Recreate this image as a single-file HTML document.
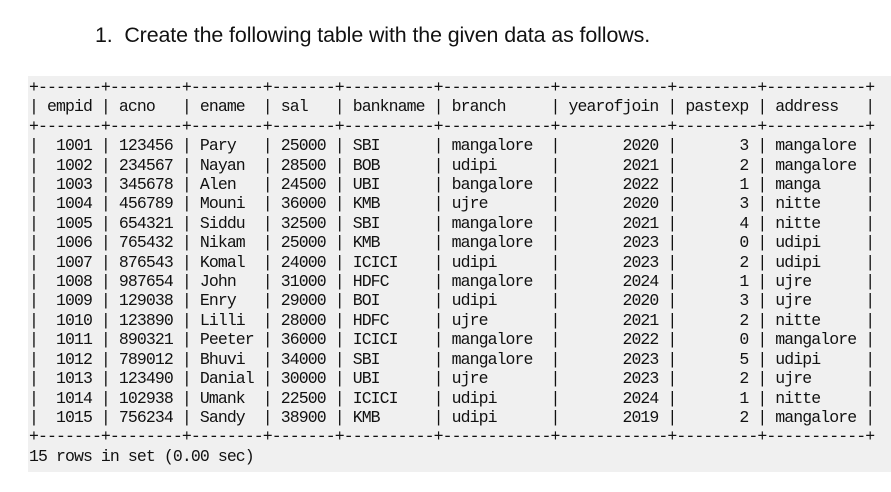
<!DOCTYPE html>
<html><head><meta charset="utf-8"><style>
html,body{margin:0;padding:0;background:#fff;width:891px;height:492px;overflow:hidden;position:relative}
.title{position:absolute;left:95px;top:23px;font-family:"Liberation Sans",sans-serif;font-size:21.4px;color:#111;white-space:nowrap;letter-spacing:-0.1px}
.term{position:absolute;left:28px;top:76px;width:863px;height:396px;background:#f0f0f0}
pre{position:absolute;left:29px;top:78px;margin:0;font-family:"Liberation Mono",monospace;font-size:16.5px;line-height:19.4px;color:#111;letter-spacing:-0.91px}
</style></head><body>
<div class="title">1.&nbsp; Create the following table with the given data as follows.</div>
<div class="term"></div>
<pre>+-------+--------+--------+-------+----------+------------+------------+---------+-----------+
| empid | acno   | ename  | sal   | bankname | branch     | yearofjoin | pastexp | address   |
+-------+--------+--------+-------+----------+------------+------------+---------+-----------+
|  1001 | 123456 | Pary   | 25000 | SBI      | mangalore  |       2020 |       3 | mangalore |
|  1002 | 234567 | Nayan  | 28500 | BOB      | udipi      |       2021 |       2 | mangalore |
|  1003 | 345678 | Alen   | 24500 | UBI      | bangalore  |       2022 |       1 | manga     |
|  1004 | 456789 | Mouni  | 36000 | KMB      | ujre       |       2020 |       3 | nitte     |
|  1005 | 654321 | Siddu  | 32500 | SBI      | mangalore  |       2021 |       4 | nitte     |
|  1006 | 765432 | Nikam  | 25000 | KMB      | mangalore  |       2023 |       0 | udipi     |
|  1007 | 876543 | Komal  | 24000 | ICICI    | udipi      |       2023 |       2 | udipi     |
|  1008 | 987654 | John   | 31000 | HDFC     | mangalore  |       2024 |       1 | ujre      |
|  1009 | 129038 | Enry   | 29000 | BOI      | udipi      |       2020 |       3 | ujre      |
|  1010 | 123890 | Lilli  | 28000 | HDFC     | ujre       |       2021 |       2 | nitte     |
|  1011 | 890321 | Peeter | 36000 | ICICI    | mangalore  |       2022 |       0 | mangalore |
|  1012 | 789012 | Bhuvi  | 34000 | SBI      | mangalore  |       2023 |       5 | udipi     |
|  1013 | 123490 | Danial | 30000 | UBI      | ujre       |       2023 |       2 | ujre      |
|  1014 | 102938 | Umank  | 22500 | ICICI    | udipi      |       2024 |       1 | nitte     |
|  1015 | 756234 | Sandy  | 38900 | KMB      | udipi      |       2019 |       2 | mangalore |
+-------+--------+--------+-------+----------+------------+------------+---------+-----------+
15 rows in set (0.00 sec)</pre>
</body></html>
